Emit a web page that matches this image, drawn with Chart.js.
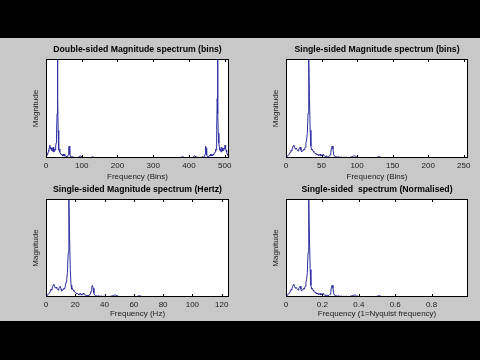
<!DOCTYPE html>
<html>
<head>
<meta charset="utf-8">
<script src="https://cdn.jsdelivr.net/npm/chart.js@4"></script>
<style>
  body { margin: 0; width: 480px; height: 360px; overflow: hidden; background: #c8c8c8; position: relative; }
  canvas { position: absolute; }
  .bar { position: absolute; left: 0; width: 480px; background: #000; z-index: 5; }
</style>
</head>
<body>
<div class="bar" style="top:0;height:38px"></div>
<div class="bar" style="top:321px;height:39px"></div>
<canvas id="c1" width="243" height="150" style="left:16px;top:34px"></canvas>
<canvas id="c2" width="242" height="150" style="left:256px;top:34px"></canvas>
<canvas id="c3" width="243" height="150" style="left:16px;top:175px"></canvas>
<canvas id="c4" width="242" height="150" style="left:256px;top:175px"></canvas>
<script>
// single-sided magnitude, bins 0..256 (peak = 100)
const magnitude = [
  0, 1, 2, 3, 3, 4, 6, 8, 7, 10,
  12, 13, 11, 9, 10, 9, 8, 7, 9, 10,
  11, 8, 6, 7, 8, 9, 8, 11, 15, 18,
  25, 45, 100, 60, 28, 12, 8, 9, 7, 6,
  5, 5, 4, 3, 4, 3, 2, 3, 4, 2,
  3, 2, 4, 3, 2, 2, 1.5, 2, 1, 2,
  1.5, 2, 3, 6, 10, 12, 9, 4, 2, 1.5,
  1, 1.2, 0.8, 1, 1.3, 0.9, 0.7, 1, 0.8, 0.6,
  0.8, 0.6, 0.7, 0.5, 0.6, 0.8, 0.5, 0.4, 0.6, 0.5,
  0.7, 0.9, 1.2, 1.4, 1.6, 1.8, 2, 2.1, 1.8, 1.3,
  1, 0.8, 0.6, 0.5, 0.4, 0.5, 0.4, 0.3, 0.4, 0.3,
  0.3, 0.4, 0.3, 0.3, 0.2, 0.3, 0.3, 0.2, 0.3, 0.2,
  0.2, 0.3, 0.2, 0.2, 0.3, 0.4, 0.5, 0.6, 0.8, 1,
  1.2, 1.3, 1.1, 0.8, 0.5, 0.3, 0.2, 0.3, 0.2, 0.2,
  0.3, 0.2, 0.2, 0.3, 0.2, 0.2, 0.3, 0.2, 0.2, 0.2,
  0.3, 0.2, 0.2, 0.2, 0.3, 0.2, 0.2, 0.2, 0.3, 0.2,
  0.2, 0.2, 0.3, 0.2, 0.2, 0.2, 0.2, 0.3, 0.2, 0.2,
  0.2, 0.3, 0.2, 0.2, 0.2, 0.2, 0.3, 0.2, 0.2, 0.2,
  0.2, 0.2, 0.3, 0.2, 0.2, 0.2, 0.2, 0.2, 0.3, 0.2,
  0.2, 0.2, 0.2, 0.3, 0.2, 0.2, 0.2, 0.2, 0.2, 0.3,
  0.2, 0.2, 0.2, 0.2, 0.2, 0.3, 0.2, 0.2, 0.2, 0.2,
  0.2, 0.3, 0.2, 0.2, 0.2, 0.2, 0.2, 0.2, 0.3, 0.2,
  0.2, 0.2, 0.2, 0.2, 0.3, 0.2, 0.2, 0.2, 0.2, 0.2,
  0.3, 0.2, 0.2, 0.2, 0.2, 0.2, 0.2, 0.3, 0.2, 0.2,
  0.2, 0.2, 0.2, 0.2, 0.2, 0.3, 0.2, 0.2, 0.2, 0.2,
  0.2, 0.2, 0.3, 0.2, 0.2, 0.2, 0.2
];
const N = 512;       // fft length
const fs = 250;      // sample rate, Hz

const titles = [
  'Double-sided Magnitude spectrum (bins)',
  'Single-sided Magnitude spectrum (bins)',
  'Single-sided Magnitude spectrum (Hertz)',
  'Single-sided  spectrum (Normalised)'
];
const xLabels = ['Frequency (Bins)', 'Frequency (Bins)', 'Frequency (Hz)', 'Frequency (1=Nyquist frequency)'];
const xMax = [512, 256, 125, 1];
const xTicks1 = [0, 100, 200, 300, 400, 500];
const xTicks2 = [0, 50, 100, 150, 200, 250];
const xTicks3 = [0, 20, 40, 60, 80, 100, 120];
const xTicks4 = [0, 0.2, 0.4, 0.6, 0.8];

const FONT = 'Liberation Sans, Arial, sans-serif';

// white axes, black box, inward ticks top and bottom
const matlabAxes = {
  id: 'matlabAxes',
  beforeDraw(chart) {
    const a = chart.chartArea;
    const ctx = chart.ctx;
    ctx.save();
    ctx.fillStyle = '#fff';
    ctx.fillRect(a.left, a.top, a.right - a.left, a.bottom - a.top);
    ctx.restore();
  },
  afterDatasetsDraw(chart) {
    const a = chart.chartArea;
    const ctx = chart.ctx;
    const sx = chart.scales.x;
    ctx.save();
    ctx.strokeStyle = '#000';
    ctx.lineWidth = 1;
    ctx.strokeRect(Math.round(a.left) + 0.5, Math.round(a.top) + 0.5,
      Math.round(a.right - a.left) - 1, Math.round(a.bottom - a.top) - 1);
    ctx.beginPath();
    sx.ticks.forEach((t) => {
      const px = Math.round(sx.getPixelForValue(t.value)) + 0.5;
      ctx.moveTo(px, a.top); ctx.lineTo(px, a.top + 3);
      ctx.moveTo(px, a.bottom); ctx.lineTo(px, a.bottom - 3);
    });
    ctx.stroke();
    ctx.restore();
  }
};

function makeChart(id, points, i, ticks, titlePad, xHeight, xTitlePad) {
  return new Chart(document.getElementById(id), {
    type: 'line',
    data: {
      datasets: [{
        data: points,
        borderColor: '#2e2ea0',
        borderWidth: 1,
        pointRadius: 0,
        tension: 0
      }]
    },
    plugins: [matlabAxes],
    options: {
      animation: false,
      responsive: false,
      devicePixelRatio: 1,
      layout: { padding: 0 },
      plugins: {
        legend: { display: false },
        tooltip: { enabled: false },
        title: {
          display: true,
          text: titles[i],
          color: '#000',
          font: { family: FONT, size: 8.7, weight: 'bold' },
          padding: titlePad
        }
      },
      scales: {
        x: {
          type: 'linear',
          min: 0,
          max: xMax[i],
          grid: { display: false, drawTicks: false },
          border: { display: false },
          ticks: {
            autoSkip: false,
            maxRotation: 0,
            padding: 3,
            color: '#1a1a1a',
            font: { family: FONT, size: 8 },
            callback: (v) => String(v)
          },
          afterBuildTicks: (scale) => { scale.ticks = ticks.map((v) => ({ value: v })); },
          afterFit: (scale) => { scale.height = xHeight; },
          title: {
            display: true,
            text: xLabels[i],
            color: '#1a1a1a',
            font: { family: FONT, size: 8 },
            padding: { top: 0, bottom: xTitlePad }
          }
        },
        y: {
          min: 0,
          max: 100,
          grid: { display: false, drawTicks: false },
          border: { display: false },
          ticks: { display: false },
          afterFit: (scale) => { scale.width = 30; },
          title: {
            display: true,
            text: 'Magnitude',
            color: '#1a1a1a',
            font: { family: FONT, size: 8 },
            padding: { top: 15.2, bottom: 0 }
          }
        },
        // empty right axis, keeps the plot box centred under the title
        yRight: {
          position: 'right',
          grid: { display: false, drawTicks: false },
          border: { display: false },
          ticks: { display: false },
          afterFit: (scale) => { scale.width = 30; }
        }
      }
    }
  });
}

function buildCharts() {
  // double-sided: bins 0..N-1, upper half mirrors the lower half
  const dbl = [];
  for (let k = 0; k < N; k++) {
    dbl.push({ x: k, y: k <= N / 2 ? magnitude[k] : magnitude[N - k] });
  }
  const bins = magnitude.map((m, k) => ({ x: k, y: m }));
  const hz = magnitude.map((m, k) => ({ x: k * fs / N, y: m }));
  const norm = magnitude.map((m, k) => ({ x: k / (N / 2), y: m }));

  makeChart('c1', dbl, 0, xTicks1, { top: 10.78, bottom: 3.78 }, 26, 2.2);
  makeChart('c2', bins, 1, xTicks2, { top: 10.78, bottom: 3.78 }, 26, 2.2);
  makeChart('c3', hz, 2, xTicks3, { top: 9.78, bottom: 3.78 }, 28, 6.2);
  makeChart('c4', norm, 3, xTicks4, { top: 9.78, bottom: 3.78 }, 28, 6.2);
}

document.addEventListener('DOMContentLoaded', () => buildCharts());
</script>
</body>
</html>
